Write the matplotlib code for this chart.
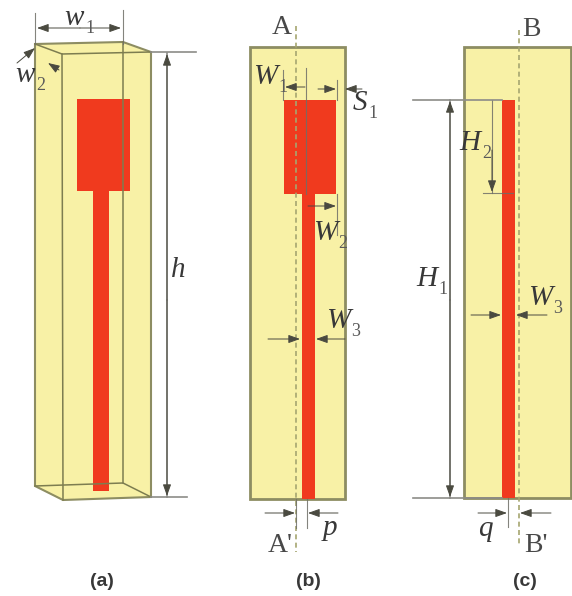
import matplotlib
matplotlib.use("Agg")
import matplotlib.pyplot as plt
from matplotlib.patches import Polygon, Rectangle

# panel (a) outline, picture pixels
box_outer = [(35, 44), (123, 42), (151, 52), (151, 497), (63, 500), (35, 486)]
box_edges = [
    [(35, 44), (62, 54), (151, 52)],
    [(62, 54), (63, 500)],
    [(123, 42), (123, 483)],
    [(35, 486), (123, 483), (151, 497)],
]
patches_red = [(77, 99, 53, 92), (93, 191, 16, 300)]

# panels (b), (c)
boards = [(250, 47, 95, 452), (464, 47, 107, 451)]
strips_red = [(284, 100, 52, 94), (302, 194, 13, 305), (502, 100, 13, 398)]
center_lines = [(296, 26, 552), (519, 30, 546)]

# thin extension lines x0, y0, x1, y1
thin_lines = [
    (35, 13, 35, 44), (123, 10, 123, 44),
    (283, 70, 283, 100), (306, 68, 306, 194), (337, 80, 337, 100),
    (337, 194, 337, 235),
    (307, 499, 307, 528), (296, 499, 296, 528),
    (483, 193, 513, 193), (492, 100, 492, 193),
    (508, 498, 508, 527),
]
wide_lines = [
    (151, 52, 196, 52), (151, 497, 187, 497), (167, 53, 167, 497),
    (413, 100, 502, 100), (413, 498, 502, 498), (450, 100, 450, 498),
]
# arrows: tail, head
dim_arrows = [
    ((80, 28), (37, 28)), ((80, 28), (121, 28)),
    ((167, 300), (167, 54)), ((167, 300), (167, 496)),
    ((305, 87), (285, 87)), ((318, 89), (336, 89)), ((362, 89), (345, 89)),
    ((308, 206), (336, 206)),
    ((268, 339), (300, 339)), ((345, 339), (316, 339)),
    ((265, 513), (295, 513)), ((338, 513), (308, 513)),
    ((450, 300), (450, 101)), ((450, 300), (450, 497)),
    ((492, 150), (492, 192)),
    ((471, 315), (501, 315)), ((547, 315), (516, 315)),
    ((478, 513), (507, 513)), ((551, 513), (520, 513)),
    ((17, 63), (35, 48)), ((59, 70), (48, 63)),
]

# text: x, y, main, sub
labels_italic = [
    (74, 18, "w", "1"), (25, 75, "w", "2"), (178, 270, "h", ""),
    (265, 77, "W", "1"), (360, 103, "S", "1"), (325, 233, "W", "2"), (338, 321, "W", "3"),
    (330, 528, "p", ""), (470, 143, "H", "2"), (427, 279, "H", "1"), (540, 298, "W", "3"),
    (485, 529, "q", ""),
]
labels_plain = [(282, 28, "A"), (280, 546, "A'"), (531, 30, "B"), (536, 546, "B'")]
panel_names = ["(a)", "(b)", "(c)"]
panel_x = [102, 308, 525]

fig = plt.figure(figsize=(5.72, 5.96), dpi=100)
ax = fig.add_axes([0, 0, 1, 1])
ax.set_xlim(0, 572)
ax.set_ylim(596, 0)
ax.axis("off")

fill = "#f8f1a6"
edge = "#8d8d62"
red = "#f03a1e"
gray = "#6f6f68"

ax.add_patch(Polygon(box_outer, closed=True, fc=fill, ec=edge, lw=1.5, zorder=1))
for pts in box_edges:
    ax.plot([p[0] for p in pts], [p[1] for p in pts], color="#7d7d50", lw=1.1, zorder=3)
for r in patches_red:
    ax.add_patch(Rectangle((r[0], r[1]), r[2], r[3], fc=red, ec="none", zorder=2))

for b in boards:
    ax.add_patch(Rectangle((b[0], b[1]), b[2], b[3], fc=fill, ec=edge, lw=2, zorder=1))
for r in strips_red:
    ax.add_patch(Rectangle((r[0], r[1]), r[2], r[3], fc=red, ec="none", zorder=2))
for c in center_lines:
    ax.plot([c[0], c[0]], [c[1], c[2]], color="#a6a670", lw=1.2, ls=(0, (3, 2)), zorder=3)

for x0, y0, x1, y1 in thin_lines:
    ax.plot([x0, x1], [y0, y1], color=gray, lw=0.8, alpha=0.85, zorder=3)
for x0, y0, x1, y1 in wide_lines:
    ax.plot([x0, x1], [y0, y1], color="#8c8c88", lw=1.2, zorder=3)

for tail, head in dim_arrows:
    ax.annotate("", xy=head, xytext=tail, zorder=4,
                arrowprops=dict(arrowstyle="-|>,head_length=0.7,head_width=0.25", color="#4a4a40",
                                lw=0.7, shrinkA=0, shrinkB=0))

for x, y, main, sub in labels_italic:
    t = ax.text(x, y, main, family="Liberation Serif", style="italic", fontsize=21,
                color="#383838", ha="center", va="center", zorder=5)
    if sub:
        ax.annotate(sub, xy=(1, 0), xycoords=t, xytext=(1, -4), textcoords="offset points",
                    family="Liberation Serif", fontsize=13, color="#5a5a5a", va="bottom", zorder=5)

for x, y, s in labels_plain:
    ax.text(x, y, s, family="Liberation Serif", fontsize=20, color="#484848",
            ha="center", va="center", zorder=5)

for x, s in zip(panel_x, panel_names):
    ax.text(x, 581, s, family="Liberation Sans", weight="bold", fontsize=14, color="#383838",
            ha="center", va="center")

fig.savefig("out.png", dpi=100)
